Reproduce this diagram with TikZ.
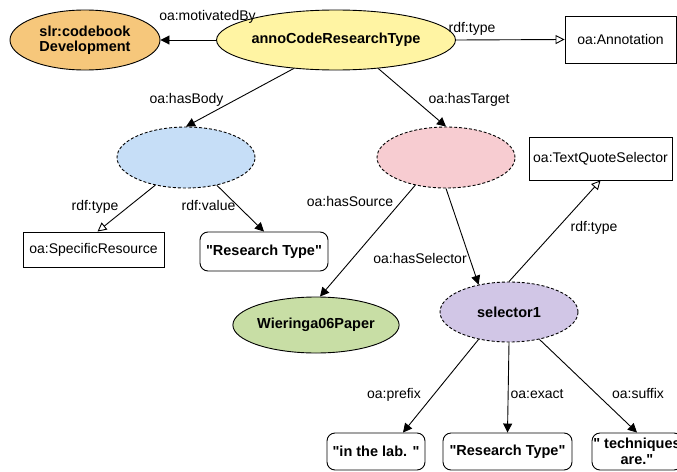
\documentclass[tikz,border=0pt]{standalone}
\usepackage{fontspec}
\setmainfont{Liberation Sans}[Ligatures=TeXOff]
\usetikzlibrary{arrows.meta,shapes.geometric}

\definecolor{cOrange}{HTML}{F6C77B}
\definecolor{cYellow}{HTML}{FFF4A3}
\definecolor{cBlue}{HTML}{C6DEF7}
\definecolor{cPink}{HTML}{F7CCD1}
\definecolor{cPurple}{HTML}{D1C6E6}
\definecolor{cGreen}{HTML}{C8DEA5}

\tikzset{
  txt/.style={font=\fontsize{14}{15}\selectfont},
  res/.style={txt, ellipse, draw, line width=0.9pt, inner sep=0pt, align=center, font=\fontsize{14.5}{15}\selectfont\bfseries},
  blank/.style={res, dash pattern=on 3pt off 2pt},
  cls/.style={txt, rectangle, draw, line width=0.9pt, inner sep=0pt},
  lit/.style={txt, rectangle, rounded corners=8pt, draw, line width=0.9pt, inner sep=0pt, align=center, font=\fontsize{14.5}{15.5}\selectfont\bfseries},
  lbl/.style={txt, inner sep=0pt, text height=10pt, text depth=3pt},
  prop/.style={line width=0.9pt, -{Triangle[length=9pt,width=9pt]}},
  typ/.style={line width=0.9pt, -{Triangle[open,length=9pt,width=9pt]}}
}

\begin{document}
\begin{tikzpicture}[x=1pt,y=-1pt]
\clip (0,0) rectangle (677,471);
\fill[white] (0,0) rectangle (677,471);

% resources
\node[res, fill=cOrange, minimum width=150pt, minimum height=60pt] (slr) at (85,40) {slr:codebook\\Development};
\node[res, fill=cYellow, minimum width=178pt, minimum height=60pt] (anno) at (336,40) {annoCodeResearchType};
\node[blank, fill=cBlue, minimum width=138pt, minimum height=61pt] (body) at (186,157.5) {};
\node[blank, fill=cPink, minimum width=138pt, minimum height=61pt] (target) at (446,157.5) {};
\node[blank, fill=cPurple, minimum width=138pt, minimum height=60pt] (sel) at (509,312) {selector1};
\node[res, fill=cGreen, minimum width=138pt, minimum height=56pt] (wie) at (316,325) {Wieringa06Paper};

% classes
\node[cls, minimum width=111pt, minimum height=47pt] (annCls) at (620.5,39.5) {oa:Annotation};
\node[cls, minimum width=141pt, minimum height=35pt] (srCls) at (93.5,249.5) {oa:SpecificResource};
\node[cls, minimum width=143pt, minimum height=43pt] (tqsCls) at (600.5,158.5) {oa:TextQuoteSelector};

% literals
\node[lit, minimum width=128pt, minimum height=39pt] (val) at (264,251.5) {"Research Type"};
\node[lit, minimum width=98pt, minimum height=37pt] (pre) at (376,451.5) {"in the lab. "};
\node[lit, minimum width=129pt, minimum height=37pt] (ex) at (507.5,451.5) {"Research Type"};
\node[lit, minimum width=90pt, minimum height=37pt] (suf) at (637,451.5) {" techniques\\are."};

% connectors
\draw[prop] (anno.west) -- (slr.east);
\draw[typ] (anno.east) -- (annCls.west);
\draw[prop] (anno.214) -- (body.north);
\draw[prop] (anno.326) -- (target.north);
\draw[typ] (body.222) -- ([xshift=4pt]srCls.north);
\draw[prop] (body.318) -- (val.north);
\draw[prop] (target.222) -- ([xshift=4pt]wie.north);
\draw[prop] (target.south) -- (sel.138);
\draw[typ] (sel.north) -- (tqsCls.south);
\draw[prop] (sel.222) -- ([xshift=27pt]pre.north);
\draw[prop] (sel.south) -- (ex.north);
\draw[prop] (sel.318) -- (suf.north);

% property labels
\node[lbl] (lMot) at (207.5,17) {oa:motivatedBy};
\node[lbl] (lTypA) at (472,29) {rdf:type};
\node[lbl] (lBody) at (186.5,100) {oa:hasBody};
\node[lbl] (lTarget) at (469,100) {oa:hasTarget};
\node[lbl] (lTypB) at (95,207) {rdf:type};
\node[lbl] (lVal) at (208.5,207) {rdf:value};
\node[lbl] (lSrc) at (350,203) {oa:hasSource};
\node[lbl] (lSel) at (420,260) {oa:hasSelector};
\node[lbl] (lTypC) at (594,228) {rdf:type};
\node[lbl] (lPre) at (394,395) {oa:prefix};
\node[lbl] (lEx) at (537,395) {oa:exact};
\node[lbl] (lSuf) at (638,395) {oa:suffix};
\end{tikzpicture}
\end{document}
